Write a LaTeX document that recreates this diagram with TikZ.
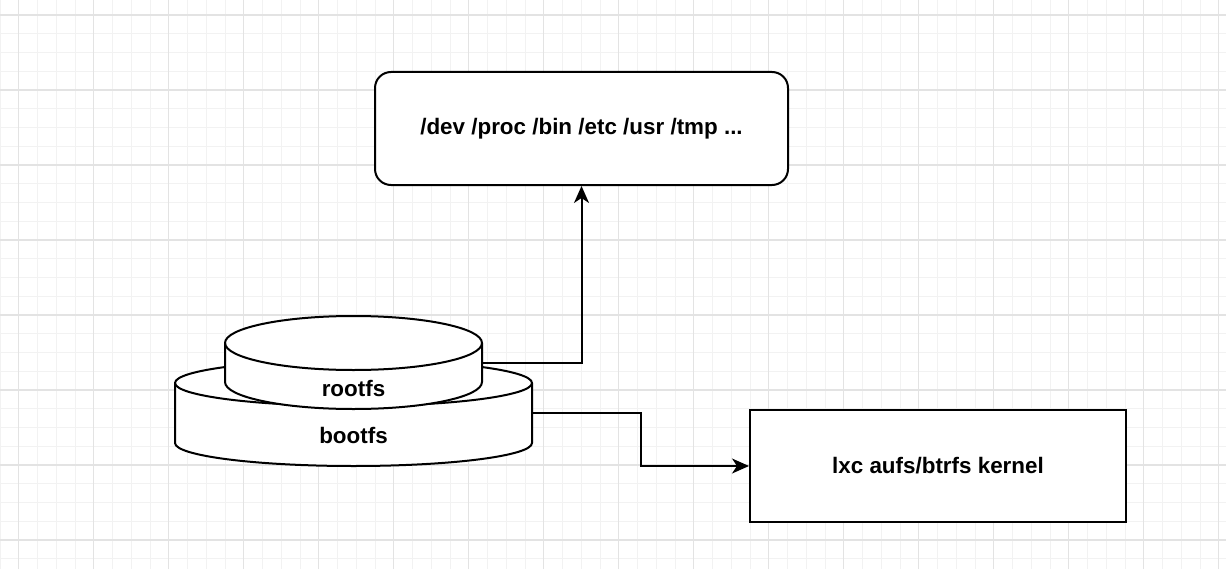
\documentclass[tikz,border=0pt]{standalone}
\usepackage{fontspec}
\setmainfont{Liberation Sans}
\usetikzlibrary{arrows.meta,calc}
\begin{document}
\begin{tikzpicture}[x=1pt,y=1pt,
  minorgrid/.style={draw=black!5, line width=0.5pt},
  majorgrid/.style={draw=black!11, line width=0.6pt},
  shapeline/.style={draw=black, line width=1pt, fill=white},
  lbl/.style={font=\fontsize{11.2}{13}\selectfont\bfseries, inner sep=0pt},
  conn/.style={draw=black, line width=1pt, -{Stealth[length=8.5pt,width=7.5pt,inset=2.5pt]}},
  hidden/.style={inner sep=0pt, outer sep=0pt}
]
\useasboundingbox (0,0) rectangle (613,284.5);
\fill[white] (0,0) rectangle (613,284.5);
% grid
\foreach \i in {0,...,66} {\draw[minorgrid] (9.375*\i,0) -- (9.375*\i,284.5);}
\foreach \i in {0,...,30} {\draw[minorgrid] (0,277-9.375*\i) -- (613,277-9.375*\i);}
\foreach \i in {0,...,16} {\draw[majorgrid] (9.375+37.5*\i,0) -- (9.375+37.5*\i,284.5);}
\foreach \i in {0,...,7} {\draw[majorgrid] (0,277-37.5*\i) -- (613,277-37.5*\i);}

% top rounded box
\node[shapeline, rounded corners=8pt, minimum width=206.5pt, minimum height=56.5pt, lbl] (dirs) at (290.75,220.25) {/dev /proc /bin /etc /usr /tmp ...};

% right box
\node[shapeline, minimum width=188pt, minimum height=56pt, lbl] (kern) at (469,51.5) {lxc aufs/btrfs kernel};

% bootfs cylinder
\draw[shapeline] (87.5,93) -- (87.5,63) arc[start angle=180, end angle=360, x radius=89.25pt, y radius=11.5pt] -- (266,93) arc[start angle=0, end angle=180, x radius=89.25pt, y radius=11.5pt] -- cycle;
\draw[line width=1pt] (87.5,93) arc[start angle=180, end angle=360, x radius=89.25pt, y radius=11.5pt];
\node[hidden, minimum width=178.5pt, minimum height=53pt] (boot) at (176.75,78) {};
\node[lbl] (bootl) at (176.75,67) {bootfs};

% rootfs cylinder
\draw[shapeline] (112.5,113) -- (112.5,93.5) arc[start angle=180, end angle=360, x radius=64.25pt, y radius=13.5pt] -- (241,113) arc[start angle=0, end angle=180, x radius=64.25pt, y radius=13.5pt] -- cycle;
\draw[line width=1pt] (112.5,113) arc[start angle=180, end angle=360, x radius=64.25pt, y radius=13.5pt];
\node[hidden, minimum width=128.5pt, minimum height=46.5pt] (root) at (176.75,103.25) {};
\node[lbl] (rootl) at (176.75,90.5) {rootfs};

% connectors
\draw[conn] (root.east) -| (dirs.south);
\coordinate (mid) at ($(boot.east)!0.5!(kern.west)$);
\draw[conn] (boot.east) -- (boot.east -| mid) |- (kern.west);
\end{tikzpicture}
\end{document}
